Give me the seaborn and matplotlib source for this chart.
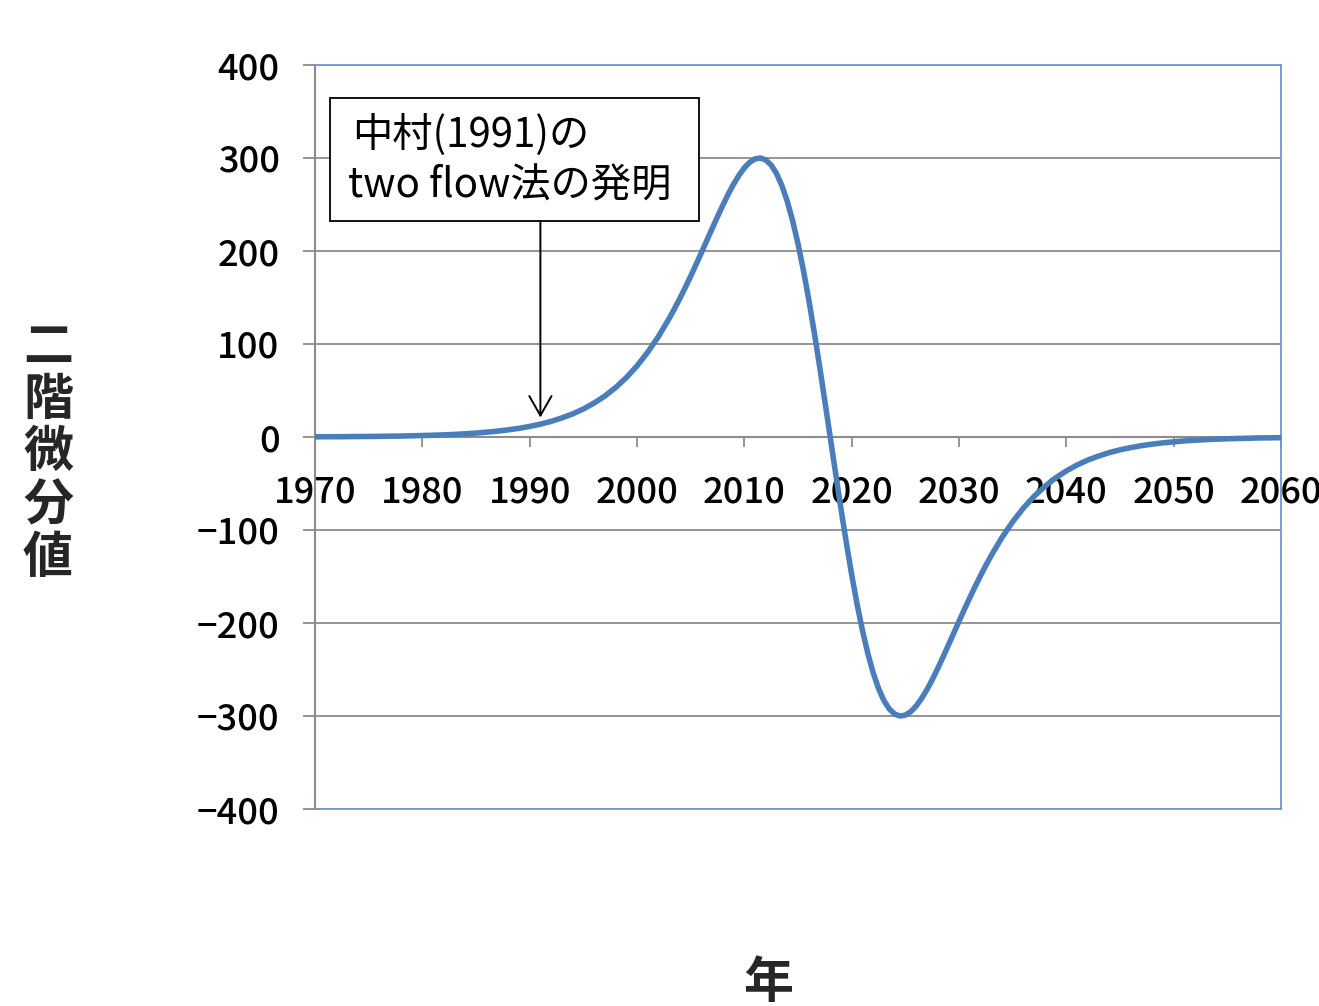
import matplotlib
matplotlib.use("Agg")
import matplotlib.pyplot as plt
import matplotlib.patches as mpatches
import seaborn as sns
import pandas as pd

# Sampling years: yearly in the tails, half-yearly around the peak and trough
years = (list(range(1970, 2004))
         + [2003.5 + 0.5 * i for i in range(59)]
         + list(range(2033, 2061)))

# Second-derivative values at those years
values = [
    # 1970-2003
    0.2, 0.3, 0.3, 0.4, 0.5, 0.6, 0.7, 0.9, 1.0, 1.3,
    1.6, 1.9, 2.3, 2.8, 3.5, 4.2, 5.2, 6.3, 7.7, 9.3,
    11.4, 13.8, 16.8, 20.5, 24.8, 30.1, 36.5, 44.0, 53.1, 63.8,
    76.4, 91.2, 108.1, 127.5,
    # 2003.5-2017.5
    138.1, 149.2, 160.8, 172.9, 185.4, 198.2, 211.2, 224.1, 236.9, 249.3,
    261.1, 271.9, 281.4, 289.4, 295.4, 299.0, 300.0, 297.9, 292.4, 283.3,
    270.3, 253.4, 232.5, 207.8, 179.5, 147.9, 113.5, 76.9, 38.8,
    # 2018
    0.0,
    # 2018.5-2032.5
    -38.8, -76.9, -113.5, -147.9, -179.5, -207.8, -232.5, -253.4, -270.3, -283.3,
    -292.4, -297.9, -300.0, -299.0, -295.4, -289.4, -281.4, -271.9, -261.1, -249.3,
    -236.9, -224.1, -211.2, -198.2, -185.4, -172.9, -160.8, -149.2, -138.1,
    # 2033-2060
    -127.5, -108.1, -91.2, -76.4, -63.8, -53.1, -44.0,
    -36.5, -30.1, -24.8, -20.5, -16.8, -13.8, -11.4, -9.3, -7.7, -6.3,
    -5.2, -4.2, -3.5, -2.8, -2.3, -1.9, -1.6, -1.3, -1.0, -0.9,
    -0.7,
]
x_ticks = list(range(1970, 2061, 10))
y_ticks = list(range(-400, 401, 100))

note_lines = ["中村(1991)の", "two flow法の発明"]
note_year = 1991
note_value = 21
x_label = "年"
y_label = "二\n階\n微\n分\n値"

sns.set_theme(style="white")
plt.rcParams["font.family"] = ["Noto Sans CJK JP", "DejaVu Sans"]
plt.rcParams["axes.unicode_minus"] = True

LINE_BLUE = "#4A7EBB"
FRAME_BLUE = "#6A96D2"
GRID_GRAY = "#8C8C8C"

fig = plt.figure(figsize=(13.19, 10.06), dpi=100)
ax = fig.add_axes([315 / 1319, 1 - 809 / 1006, (1281 - 315) / 1319, (809 - 65) / 1006])

df = pd.DataFrame({"year": years, "value": values})
sns.lineplot(data=df, x="year", y="value", ax=ax, color=LINE_BLUE,
             linewidth=4.0, zorder=3, solid_joinstyle="round",
             solid_capstyle="round")

ax.set_xlim(1970, 2060)
ax.set_ylim(-400, 400)
ax.set_xticks(x_ticks)
ax.set_yticks(y_ticks)
ax.set_xlabel("")
ax.set_ylabel("")

# Horizontal gridlines
ax.yaxis.grid(True, color=GRID_GRAY, linewidth=1.3)
ax.xaxis.grid(False)
ax.set_axisbelow(True)

# Frame: blue border, gray value axis, gray category axis at zero
for side in ("top", "right"):
    ax.spines[side].set_color(FRAME_BLUE)
    ax.spines[side].set_linewidth(1.3)
ax.spines["left"].set_color(GRID_GRAY)
ax.spines["left"].set_linewidth(1.5)
ax.spines["bottom"].set_position(("data", 0))
ax.spines["bottom"].set_color(GRID_GRAY)
ax.spines["bottom"].set_linewidth(1.5)
ax.plot([0, 1], [0, 0], transform=ax.transAxes, color=FRAME_BLUE,
        linewidth=1.3, clip_on=False, zorder=4)

ax.tick_params(axis="y", direction="out", length=8.5, width=1.3,
               color=GRID_GRAY, pad=17, labelsize=26, left=True)
ax.tick_params(axis="x", direction="out", length=7, width=1.3,
               color=GRID_GRAY, pad=20, labelsize=26, bottom=True)
for lbl in ax.get_xticklabels() + ax.get_yticklabels():
    lbl.set_color("black")
    lbl.set_fontweight("medium")
    lbl.set_clip_on(False)

# Annotation box with two text lines and a downward arrow
ax.add_patch(mpatches.Rectangle((1971.4, 232.3), 2005.8 - 1971.4, 364.5 - 232.3,
                                facecolor="white", edgecolor="black",
                                linewidth=1.3, zorder=5))
ax.text(1973.45, 324.7, note_lines[0], ha="left", va="center",
        fontsize=29, color="black", zorder=6)
ax.text(1973.07, 269.9, note_lines[1], ha="left", va="center",
        fontsize=29, color="black", zorder=6)
ax.annotate("", xy=(note_year, note_value), xytext=(note_year, 232.3),
            arrowprops=dict(arrowstyle="->,head_length=1.4,head_width=0.8",
                            mutation_scale=10, shrinkA=0, shrinkB=0,
                            color="black", linewidth=1.4), zorder=5)

# Axis titles
fig.text(48 / 1319, 1 - 453 / 1006, y_label, ha="center", va="center",
         fontsize=36, fontweight="bold", linespacing=1.04)
fig.text(768 / 1319, 1 - 984 / 1006, x_label, ha="center", va="center",
         fontsize=36, fontweight="bold")

fig.savefig("out.png", dpi=100)
